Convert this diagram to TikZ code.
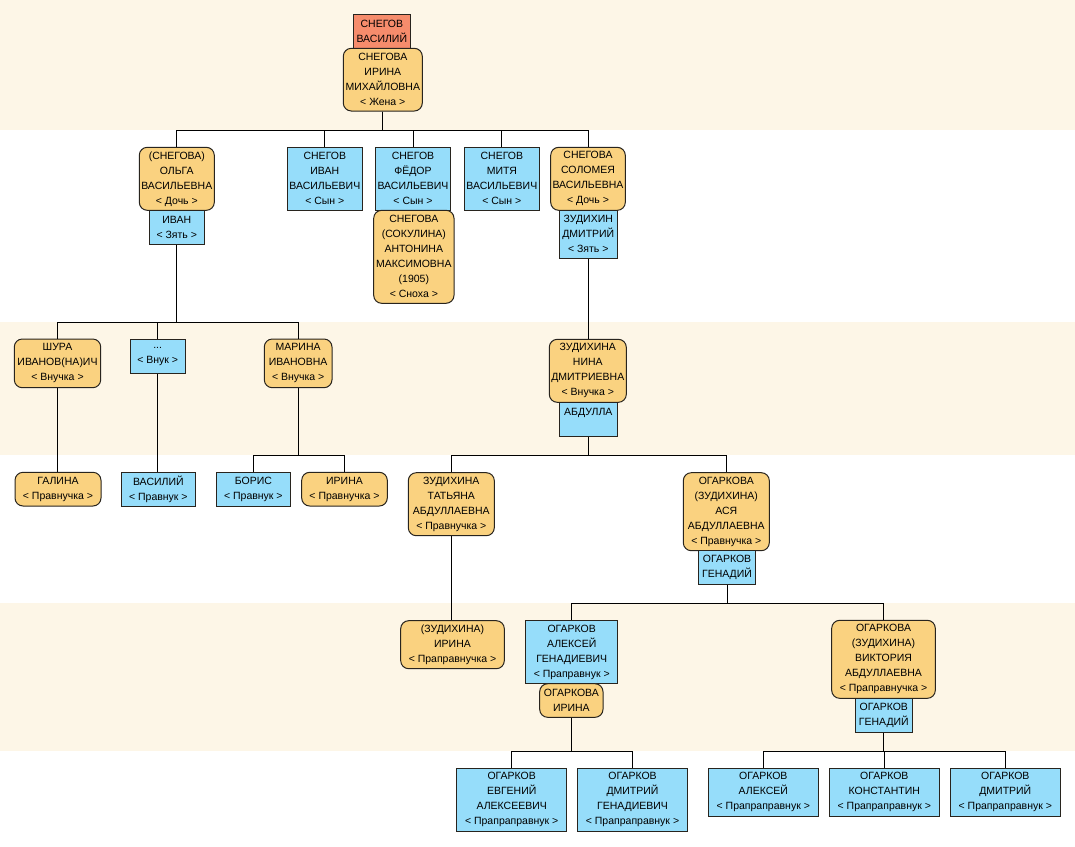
\documentclass[tikz,border=0pt]{standalone}
\usepackage{fontspec}
\setmainfont{Liberation Sans}
\definecolor{cream}{RGB}{253,246,231}
\definecolor{fem}{RGB}{250,210,128}
\definecolor{male}{RGB}{150,221,250}
\definecolor{rootc}{RGB}{246,140,108}
\definecolor{linec}{RGB}{40,36,30}
\tikzset{
  fbox/.style={draw=linec, line width=1pt, inner sep=0pt, align=center,
    font=\fontsize{10.5}{15}\selectfont},
  femb/.style={fbox, fill=fem, rounded corners=8pt},
  maleb/.style={fbox, fill=male},
  rootb/.style={fbox, fill=rootc},
  conn/.style={draw=black, line width=1pt},
}
\newcommand\fambox[7]{%
  \node[#2, minimum width={#5pt-#3pt}, minimum height={#6pt-#4pt}] (#1)
    at ({(#3+#5)/2},{(#4+#6)/2}) {#7};}
\begin{document}
\begin{tikzpicture}[x=1pt,y=-1pt]
\useasboundingbox (0,0) rectangle (1075,846);
% bands
\fill[cream] (0,0) rectangle (1075,130);
\fill[cream] (0,322) rectangle (1075,455);
\fill[cream] (0,603.3) rectangle (1075,751.3);
% row 1
\fambox{root}{rootb}{353.3}{14.3}{410.3}{48.3}{СНЕГОВ\\ВАСИЛИЙ}
\fambox{wife}{femb}{343.3}{48.3}{422.3}{111}{СНЕГОВА\\ИРИНА\\МИХАЙЛОВНА\\< Жена >}
% row 2
\fambox{olga}{femb}{139.3}{147.3}{214.3}{210.3}{(СНЕГОВА)\\ОЛЬГА\\ВАСИЛЬЕВНА\\< Дочь >}
\fambox{ivanz}{maleb}{149.3}{210.3}{204.3}{244.3}{ИВАН\\< Зять >}
\fambox{ivan}{maleb}{287.3}{147.3}{362.3}{210.3}{СНЕГОВ\\ИВАН\\ВАСИЛЬЕВИЧ\\< Сын >}
\fambox{fedor}{maleb}{375.7}{147.3}{450.3}{210.3}{СНЕГОВ\\ФЁДОР\\ВАСИЛЬЕВИЧ\\< Сын >}
\fambox{antonina}{femb}{373.7}{210.3}{454}{303.3}{СНЕГОВА\\(СОКУЛИНА)\\АНТОНИНА\\МАКСИМОВНА\\(1905)\\< Сноха >}
\fambox{mitya}{maleb}{464.3}{147.3}{539.3}{210.3}{СНЕГОВ\\МИТЯ\\ВАСИЛЬЕВИЧ\\< Сын >}
\fambox{solomeya}{femb}{550.7}{147.3}{625.3}{210.3}{СНЕГОВА\\СОЛОМЕЯ\\ВАСИЛЬЕВНА\\< Дочь >}
\fambox{zudikhin}{maleb}{559.3}{210.3}{617.3}{258.3}{ЗУДИХИН\\ДМИТРИЙ\\< Зять >}
% row 3
\fambox{shura}{femb}{14.3}{339}{100.7}{387.7}{ШУРА\\ИВАНОВ(НА)ИЧ\\< Внучка >}
\fambox{vnuk}{maleb}{130}{339}{185.3}{373.3}{...\\< Внук >}
\fambox{marina}{femb}{264.3}{339}{332}{387.7}{МАРИНА\\ИВАНОВНА\\< Внучка >}
\fambox{nina}{femb}{549.3}{339.3}{626.3}{402.3}{ЗУДИХИНА\\НИНА\\ДМИТРИЕВНА\\< Внучка >}
\fambox{abdulla}{maleb}{559.3}{402.3}{617.3}{436.3}{АБДУЛЛА\\\phantom{А}}
% row 4
\fambox{galina}{femb}{15}{472.3}{101}{506}{ГАЛИНА\\< Правнучка >}
\fambox{vasiliy}{maleb}{121}{472.3}{195.7}{506}{ВАСИЛИЙ\\< Правнук >}
\fambox{boris}{maleb}{216.7}{472.3}{290}{506}{БОРИС\\< Правнук >}
\fambox{irina}{femb}{301.7}{472.3}{387.3}{506}{ИРИНА\\< Правнучка >}
\fambox{tatyana}{femb}{408.3}{472.7}{494.3}{535.7}{ЗУДИХИНА\\ТАТЬЯНА\\АБДУЛЛАЕВНА\\< Правнучка >}
\fambox{asya}{femb}{683.3}{472.7}{769.3}{550.7}{ОГАРКОВА\\(ЗУДИХИНА)\\АСЯ\\АБДУЛЛАЕВНА\\< Правнучка >}
\fambox{genadiyA}{maleb}{698.3}{550.7}{755.7}{584.3}{ОГАРКОВ\\ГЕНАДИЙ}
% row 5
\fambox{irinaZ}{femb}{400.7}{620.7}{504.3}{668.7}{(ЗУДИХИНА)\\ИРИНА\\< Праправнучка >}
\fambox{alexeyG}{maleb}{525.7}{620.7}{617.7}{683.7}{ОГАРКОВ\\АЛЕКСЕЙ\\ГЕНАДИЕВИЧ\\< Праправнук >}
\fambox{irinaO}{femb}{539.7}{683.7}{603}{717.3}{ОГАРКОВА\\ИРИНА}
\fambox{viktoria}{femb}{831.7}{620.3}{935.3}{698.3}{ОГАРКОВА\\(ЗУДИХИНА)\\ВИКТОРИЯ\\АБДУЛЛАЕВНА\\< Праправнучка >}
\fambox{genadiyV}{maleb}{855.3}{698.3}{912.3}{732.3}{ОГАРКОВ\\ГЕНАДИЙ}
% row 6
\fambox{evgeniy}{maleb}{456.7}{768.3}{566.7}{831.3}{ОГАРКОВ\\ЕВГЕНИЙ\\АЛЕКСЕЕВИЧ\\< Прапраправнук >}
\fambox{dmitriyG}{maleb}{577.3}{768.3}{687.7}{831.3}{ОГАРКОВ\\ДМИТРИЙ\\ГЕНАДИЕВИЧ\\< Прапраправнук >}
\fambox{alexeyO}{maleb}{708.3}{768.3}{818.3}{816.3}{ОГАРКОВ\\АЛЕКСЕЙ\\< Прапраправнук >}
\fambox{konst}{maleb}{829.3}{768.3}{939.3}{816.3}{ОГАРКОВ\\КОНСТАНТИН\\< Прапраправнук >}
\fambox{dmitriyO}{maleb}{950.3}{768.3}{1060.3}{816.3}{ОГАРКОВ\\ДМИТРИЙ\\< Прапраправнук >}
% connectors
\foreach \c in {olga,ivan,fedor,mitya,solomeya}
  \draw[conn] (wife.south) -- ++(0,19) -| (\c.north);
\foreach \c in {shura,vnuk,marina}
  \draw[conn] (ivanz.south) -- ++(0,77.7) -| (\c.north);
\draw[conn] (shura.south) -- (shura.south |- galina.north);
\draw[conn] (vnuk.south) -- (vnuk.south |- vasiliy.north);
\foreach \c in {boris,irina}
  \draw[conn] (marina.south) -- ++(0,67.3) -| (\c.north);
\draw[conn] (zudikhin.south) -- (zudikhin.south |- nina.north);
\foreach \c in {tatyana,asya}
  \draw[conn] (abdulla.south) -- ++(0,18.7) -| (\c.north);
\draw[conn] (tatyana.south) -- (tatyana.south |- irinaZ.north);
\foreach \c in {alexeyG,viktoria}
  \draw[conn] (genadiyA.south) -- ++(0,19) -| (\c.north);
\foreach \c in {evgeniy,dmitriyG}
  \draw[conn] (irinaO.south) -- ++(0,34) -| (\c.north);
\foreach \c in {alexeyO,konst,dmitriyO}
  \draw[conn] (genadiyV.south) -- ++(0,19) -| (\c.north);
\end{tikzpicture}
\end{document}
